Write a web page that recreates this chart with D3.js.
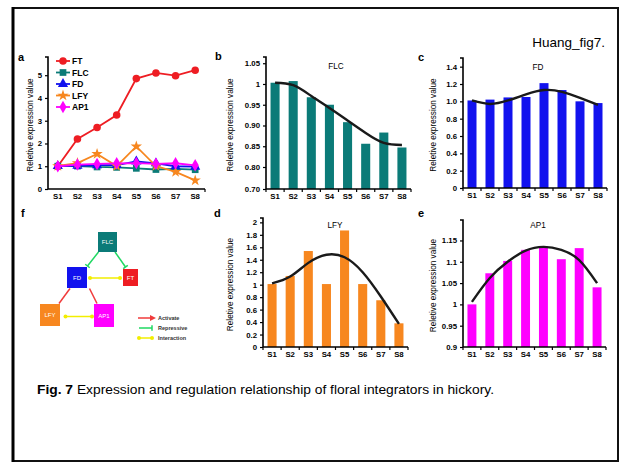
<!DOCTYPE html>
<html>
<head>
<meta charset="utf-8">
<script src="https://cdn.jsdelivr.net/npm/d3@7"></script>
<style>
  body { margin: 0; background: #fff; }
  svg { display: block; font-family: "Liberation Sans", Arial, sans-serif; }
</style>
</head>
<body>
<script>
"use strict"

// ---- data ----
const stages = ['S1', 'S2', 'S3', 'S4', 'S5', 'S6', 'S7', 'S8']

const ft  = [1.0, 2.2, 2.7, 3.25, 4.85, 5.1, 4.98, 5.22]
const flc = [1.003, 1.007, 0.968, 0.95, 0.908, 0.856, 0.883, 0.847]
const fd  = [1.01, 1.02, 1.045, 1.05, 1.21, 1.13, 1.0, 0.98]
const lfy = [1.01, 1.14, 1.54, 1.01, 1.87, 1.01, 0.75, 0.38]
const ap1 = [1.0, 1.073, 1.102, 1.128, 1.137, 1.106, 1.132, 1.04]

// trend curves drawn over the bars (values at each stage)
const flcFit = [1.003, 0.997, 0.971, 0.942, 0.912, 0.882, 0.858, 0.853]
const fdFit  = [1.01, 0.97, 1.01, 1.08, 1.13, 1.11, 1.04, 0.96]
const lfyFit = [1.02, 1.13, 1.35, 1.48, 1.44, 1.2, 0.81, 0.37]
const ap1Fit = [1.006, 1.062, 1.10, 1.126, 1.135, 1.128, 1.104, 1.05]

const aTicks   = [0, 1, 2, 3, 4, 5]
const flcTicks = [0.70, 0.80, 0.85, 0.90, 0.95, 1, 1.05]
const flcTickLabels = ['0.70', '0.80', '0.85', '0.90', '0.95', '1', '1.05']
const fdTicks  = [0, 0.2, 0.4, 0.6, 0.8, 1.0, 1.2, 1.4]
const lfyTicks = [0, 0.2, 0.4, 0.6, 0.8, 1, 1.2, 1.4, 1.6, 1.8, 2]
const ap1Ticks = [0.9, 0.95, 1, 1.05, 1.1, 1.15]

const genes = ['FT', 'FLC', 'FD', 'LFY', 'AP1']
const geneValues = [ft, flc, fd, lfy, ap1]

// network in panel f
const nodes = ['FLC', 'FD', 'FT', 'LFY', 'AP1']
const edges = [
   ['FLC', 'FD', 'repress'],
   ['FLC', 'FT', 'repress'],
   ['FD', 'FT', 'interact'],
   ['FD', 'LFY', 'activate'],
   ['FD', 'AP1', 'activate'],
   ['LFY', 'AP1', 'interact']
]
const edgeKinds = ['activate', 'repress', 'interact']
const edgeNames = ['Activate', 'Repressive', 'Interaction']

// ---- styles ----
const colors = { FT: '#ee1d23', FLC: '#0b7b78', FD: '#1212ee', LFY: '#f7871f', AP1: '#ff00ff' }
const symbols = { FT: d3.symbolCircle, FLC: d3.symbolSquare, FD: d3.symbolTriangle, LFY: d3.symbolStar, AP1: d3.symbolDiamond }
const edgeColors = { activate: '#f03b3b', repress: '#1fd862', interact: '#f2ee00' }

const w = 621, h = 463

const svg = d3.select('body')
   .append('svg')
      .attr('width', w)
      .attr('height', h)

// page frame
svg.append('rect')
   .attr('x', 13).attr('y', 8)
   .attr('width', 605).attr('height', 453)
   .attr('fill', '#fff')
   .attr('stroke', '#111')
   .attr('stroke-width', 2)
svg.append('line')
   .attr('x1', 13).attr('x2', 13).attr('y1', 7).attr('y2', 462)
   .attr('stroke', '#000').attr('stroke-width', 3)

svg.append('text')
   .attr('x', 605).attr('y', 47)
   .attr('text-anchor', 'end')
   .attr('font-size', 13.5)
   .text('Huang_fig7.')

const letters = [['a', 18, 61], ['b', 215, 60], ['c', 418, 61], ['f', 21, 217], ['d', 214, 217], ['e', 418, 217]]
svg.selectAll('text.letter')
   .data(letters)
   .enter()
   .append('text')
      .attr('class', 'letter')
      .attr('x', d => d[1])
      .attr('y', d => d[2])
      .attr('font-size', 11)
      .attr('font-weight', 'bold')
      .text(d => d[0])

// axes helper shared by all panels
function drawAxes(g, x, y, ticks, labels, yLabelX) {
   const [x0, x1] = x.range()
   const [yb, yt] = [y.range()[0], y.range()[y.range().length - 1]]

   const yAxis = d3.axisLeft(y)
      .tickValues(ticks)
      .tickSize(3)
      .tickFormat((d, i) => labels ? labels[i] : d3.format('~g')(d))
   g.append('g')
      .attr('transform', `translate(${x0}, 0)`)
      .call(yAxis)
      .call(s => s.select('.domain').attr('d', `M-3,${yt}H0V${yb}`))

   const xAxis = d3.axisBottom(x).tickSize(0).tickPadding(4)
   g.append('g')
      .attr('transform', `translate(0, ${yb})`)
      .call(xAxis)
      .call(s => s.select('.domain').attr('d', `M${x0},0H${x1}`))
   // GraphPad-style ticks between categories
   g.selectAll('line.sep')
      .data(stages)
      .enter()
      .append('line')
         .attr('class', 'sep')
         .attr('x1', d => x(d) - x.step() * 0.25)
         .attr('x2', d => x(d) - x.step() * 0.25)
         .attr('y1', yb).attr('y2', yb + 3)
         .attr('stroke', '#000').attr('stroke-width', 1.2)
   g.append('line')
      .attr('x1', x1).attr('x2', x1)
      .attr('y1', yb).attr('y2', yb + 3)
      .attr('stroke', '#000').attr('stroke-width', 1.2)

   g.selectAll('.domain').attr('stroke-width', 1.6)
   g.selectAll('.tick line').attr('stroke-width', 1.2)
   g.selectAll('.tick text').attr('font-size', 7.8).attr('font-weight', 'bold').attr('fill', '#000')

   g.append('text')
      .attr('transform', `translate(${yLabelX}, ${(yb + yt) / 2 + 2}) rotate(-90)`)
      .attr('text-anchor', 'middle')
      .attr('font-size', 8.2)
      .text('Reletive expression value')
}

function barPanel(opts) {
   const g = svg.append('g')
   const x = d3.scaleBand(stages, opts.xr).paddingInner(0.5).paddingOuter(0.25)
   const y = d3.scaleLinear(opts.domain, opts.yr)
   const base = opts.domain[0]

   g.selectAll('rect')
      .data(opts.values)
      .enter()
      .append('rect')
         .attr('x', (d, i) => x(stages[i]))
         .attr('y', d => y(d))
         .attr('width', x.bandwidth())
         .attr('height', d => y(base) - y(d))
         .attr('fill', opts.color)

   const line = d3.line()
      .x((d, i) => x(stages[i]) + x.bandwidth() / 2)
      .y(d => y(d))
      .curve(d3.curveNatural)
   g.append('path')
      .attr('d', line(opts.fit))
      .attr('fill', 'none')
      .attr('stroke', '#1a1a1a')
      .attr('stroke-width', 2.4)

   drawAxes(g, x, y, opts.ticks, opts.labels, opts.ylx)

   g.append('text')
      .attr('x', opts.title[1]).attr('y', opts.title[2])
      .attr('text-anchor', 'middle')
      .attr('font-size', 8.2)
      .text(opts.title[0])
}

barPanel({ values: flc, fit: flcFit, color: colors.FLC, xr: [266, 411], domain: [0.70, 0.80, 1.065], yr: [189, 167, 57],
   ticks: flcTicks, labels: flcTickLabels, ylx: 233, title: ['FLC', 336, 69] })
barPanel({ values: fd, fit: fdFit, color: colors.FD, xr: [463, 607], domain: [0, 1.5], yr: [188, 58],
   ticks: fdTicks, labels: fdTicks.map(d => d === 0 ? '0' : d3.format('.1f')(d)), ylx: 436, title: ['FD', 538, 70] })
barPanel({ values: lfy, fit: lfyFit, color: colors.LFY, xr: [263, 408], domain: [0, 2.07], yr: [347, 218],
   ticks: lfyTicks, ylx: 233, title: ['LFY', 335, 228] })
barPanel({ values: ap1, fit: ap1Fit, color: colors.AP1, xr: [463, 606], domain: [0.9, 1.198], yr: [347, 220],
   ticks: ap1Ticks, ylx: 436, title: ['AP1', 538, 228] })

// ---- panel a: line chart ----
{
   const g = svg.append('g')
   const x = d3.scaleBand(stages, [48, 205]).paddingInner(0.5).paddingOuter(0.25)
   const y = d3.scaleLinear([0, 5.8], [189, 57])
   const cx = s => x(s) + x.bandwidth() / 2
   const line = d3.line().x((d, i) => cx(stages[i])).y(d => y(d))
   const symSize = gene => gene === 'LFY' ? 40 : 45

   genes.forEach((gene, k) => {
      const vals = geneValues[k]
      g.append('path')
         .attr('d', line(vals))
         .attr('fill', 'none')
         .attr('stroke', colors[gene])
         .attr('stroke-width', 1.8)
      g.selectAll(null)
         .data(vals)
         .enter()
         .append('path')
            .attr('transform', (d, i) => `translate(${cx(stages[i])}, ${y(d)})`)
            .attr('d', d3.symbol(symbols[gene], symSize(gene)))
            .attr('fill', colors[gene])
   })

   drawAxes(g, x, y, aTicks, null, 33)
   g.selectAll('line.sep').remove()

   // legend
   const lg = g.selectAll('g.leg')
      .data(genes)
      .enter()
      .append('g')
         .attr('class', 'leg')
         .attr('transform', (d, i) => `translate(56, ${61 + i * 11.5})`)
   lg.append('line')
      .attr('x1', 0).attr('x2', 14)
      .attr('stroke', d => colors[d]).attr('stroke-width', 1.8)
   lg.append('path')
      .attr('transform', 'translate(7, 0)')
      .attr('d', d => d3.symbol(symbols[d], symSize(d))())
      .attr('fill', d => colors[d])
   lg.append('text')
      .attr('x', 16).attr('y', 3)
      .attr('font-size', 8.5)
      .attr('font-weight', 'bold')
      .text(d => d)
}

// ---- panel f: regulation network ----
{
   const g = svg.append('g')
   const layout = {
      FLC: [107.5, 242, 19, 20],
      FD:  [77, 277.5, 20, 21],
      FT:  [130.5, 277.5, 15, 17],
      LFY: [50, 315, 20, 22],
      AP1: [104, 315.5, 20, 23]
   }
   const ends = {
      'FLC-FD':  [[98.5, 252], [87.5, 266]],
      'FLC-FT':  [[115, 252], [125.5, 267]],
      'FD-FT':   [[90, 278], [120, 278]],
      'FD-LFY':  [[70, 288.5], [59, 303.5]],
      'FD-AP1':  [[89.5, 288.5], [97, 303.5]],
      'LFY-AP1': [[65.5, 316.5], [92, 316.5]]
   }

   function drawEdge(sel, p, q, kind) {
      sel.append('line')
         .attr('x1', p[0]).attr('y1', p[1]).attr('x2', q[0]).attr('y2', q[1])
         .attr('stroke', edgeColors[kind]).attr('stroke-width', 1.5)
      const a = Math.atan2(q[1] - p[1], q[0] - p[0])
      if (kind === 'repress') {
         const nx = -Math.sin(a) * 2.8, ny = Math.cos(a) * 2.8
         sel.append('line')
            .attr('x1', q[0] - nx).attr('y1', q[1] - ny).attr('x2', q[0] + nx).attr('y2', q[1] + ny)
            .attr('stroke', edgeColors[kind]).attr('stroke-width', 1.5)
      } else if (kind === 'interact') {
         sel.selectAll(null).data([p, q]).enter().append('circle')
            .attr('cx', d => d[0]).attr('cy', d => d[1]).attr('r', 2)
            .attr('fill', edgeColors[kind])
      }
   }

   edges.forEach(e => drawEdge(g, ...ends[`${e[0]}-${e[1]}`], e[2]))

   const ng = g.selectAll('g.node')
      .data(nodes)
      .enter()
      .append('g')
         .attr('class', 'node')
   ng.append('rect')
      .attr('x', d => layout[d][0] - layout[d][2] / 2)
      .attr('y', d => layout[d][1] - layout[d][3] / 2)
      .attr('width', d => layout[d][2])
      .attr('height', d => layout[d][3])
      .attr('fill', d => colors[d])
   ng.append('text')
      .attr('x', d => layout[d][0])
      .attr('y', d => layout[d][1] + 2)
      .attr('text-anchor', 'middle')
      .attr('font-size', 6)
      .attr('fill', '#fff')
      .text(d => d)

   // legend
   const lg = g.selectAll('g.eleg')
      .data(edgeKinds)
      .enter()
      .append('g')
         .attr('class', 'eleg')
   lg.each(function (kind, i) {
      const sel = d3.select(this)
      const yy = 318 + i * 10
      if (kind === 'activate') {
         sel.append('line')
            .attr('x1', 138).attr('y1', yy).attr('x2', 151).attr('y2', yy)
            .attr('stroke', edgeColors[kind]).attr('stroke-width', 1.5)
         sel.append('path')
            .attr('d', `M150,${yy - 3}L156,${yy}L150,${yy + 3}Z`)
            .attr('fill', edgeColors[kind])
      } else {
         drawEdge(sel, [139, yy], [152, yy], kind)
      }
      sel.append('text')
         .attr('x', 158).attr('y', yy + 2)
         .attr('font-size', 5.5)
         .attr('font-weight', 'bold')
         .attr('fill', '#333')
         .text(edgeNames[i])
   })
}

// caption
const cap = svg.append('text')
   .attr('x', 37).attr('y', 394)
   .attr('font-size', 12.5)
   .attr('textLength', 457)
   .attr('lengthAdjust', 'spacingAndGlyphs')
cap.append('tspan').attr('font-weight', 'bold').text('Fig. 7')
cap.append('tspan').text(' Expression and regulation relationship of floral integrators in hickory.')
</script>
</body>
</html>
